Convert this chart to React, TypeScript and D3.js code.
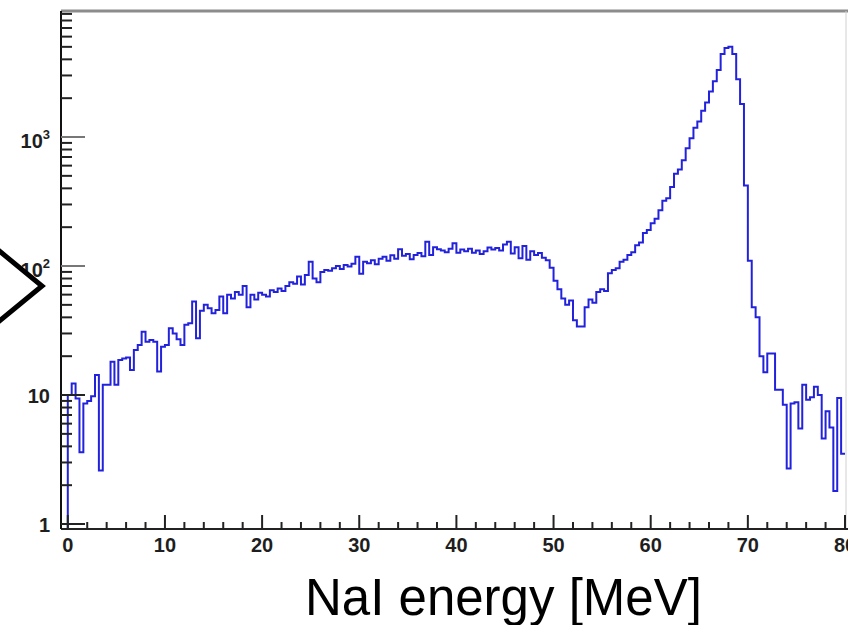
import React from 'react';
import * as d3 from 'd3';

// Histogram: NaI energy spectrum, bins of 0.4 MeV starting at 0 MeV
const BIN_START = 0;
const BIN_WIDTH = 0.4;
const counts: number[] = [
  10, 12.3, 9.4, 3.6, 8.6, 9.0, 9.8, 14.3, 2.6, 12.0,
  12.0, 18.1, 12.0, 18.7, 19.2, 19.5, 15.6, 22.3, 24.4, 31,
  25.9, 26.7, 25.9, 15.2, 23.7, 24.4, 32.9, 30, 27, 24.4,
  35, 36, 53, 27.5, 45, 50, 47, 43, 45.6, 58,
  43, 60, 56, 63, 60, 70, 48, 60, 55, 62,
  60, 58, 65, 63, 67, 64, 70, 75, 73, 83,
  72, 85, 108, 80, 75, 90, 93, 92, 96, 100,
  95, 102, 99, 104, 118, 87, 108, 105, 111, 103,
  114, 118, 110, 121, 114, 135, 120, 124, 113, 122,
  126, 119, 154, 122, 140, 135, 132, 128, 136, 150,
  127, 134, 130, 136, 127, 132, 124, 130, 139, 134,
  138, 132, 147, 154, 125, 140, 115, 143, 112, 130,
  122, 126, 116, 111, 97, 77, 66, 56, 50, 54,
  38, 34, 34, 48, 55, 52, 63, 66, 64, 88,
  93, 96, 108, 112, 122, 128, 145, 152, 180, 190,
  215, 232, 270, 320, 335, 410, 520, 560, 660, 820,
  980, 1180, 1320, 1600, 1850, 2250, 2700, 3300, 4400, 4900,
  5000, 4400, 2800, 1800, 420, 110, 48, 40, 20, 15,
  21, 21, 11, 11, 8.4, 2.7, 8.6, 8.8, 5.5, 12,
  9.2, 9.6, 11.6, 10, 4.6, 7.5, 5.6, 1.8, 9.5, 3.5,
];

const xMajorTicks = [0, 10, 20, 30, 40, 50, 60, 70, 80];
const xMinorTicks = [2, 4, 6, 8, 12, 14, 16, 18, 22, 24, 26, 28, 32, 34, 36, 38, 42, 44, 46, 48, 52, 54, 56, 58, 62, 64, 66, 68, 72, 74, 76, 78];
const yMajorTicks = [1, 10, 100, 1000];
const yTickExponents = ['', '', '2', '3'];
const yTickBases = ['1', '10', '10', '10'];
const xTitle = 'NaI energy [MeV]';

export default function App() {
  const W = 848, H = 625;
  const left = 61, right = 845, top = 11, bottom = 529;
  const x = d3.scaleLinear().domain([-0.7, 80]).range([left, right]);
  const y = d3.scaleLog().domain([0.915, 9480]).range([bottom, top]);

  const yMinor: number[] = [];
  yMajorTicks.forEach((d) => {
    for (let k = 2; k <= 9; k++) if (k * d <= 9480) yMinor.push(k * d);
  });

  const pts: [number, number][] = [];
  pts.push([x(BIN_START), bottom + 2]);
  counts.forEach((c, i) => {
    const x0 = x(BIN_START + i * BIN_WIDTH);
    const x1 = x(BIN_START + (i + 1) * BIN_WIDTH);
    const yy = y(c);
    pts.push([x0, yy], [x1, yy]);
  });
  const pathD = d3.line()(pts) || '';

  const font = "'Liberation Sans', Arial, Helvetica, sans-serif";

  return (
    <svg width={W} height={H} style={{ position: 'absolute', left: 0, top: 0, background: '#fff' }}>
      <rect x={0} y={0} width={W} height={H} fill="#fff" />
      <defs>
        <clipPath id="plotclip">
          <rect x={left} y={top} width={W - left} height={bottom - top} />
        </clipPath>
      </defs>
      {/* frame */}
      <line x1={left} x2={W} y1={top} y2={top} stroke="#8c8c8c" strokeWidth={3} />
      <line x1={846} x2={846} y1={top} y2={bottom} stroke="#d0d0d0" strokeWidth={1} />
      {/* histogram */}
      <path d={pathD} fill="none" stroke="#2222dd" strokeWidth={2} clipPath="url(#plotclip)" />
      {/* x axis */}
      <line x1={left} x2={W} y1={bottom} y2={bottom} stroke="#222" strokeWidth={2} />
      {xMajorTicks.map((t) => (
        <line key={'xM' + t} x1={x(t)} x2={x(t)} y1={bottom} y2={bottom - 14} stroke="#222" strokeWidth={2} />
      ))}
      {xMinorTicks.map((t) => (
        <line key={'xm' + t} x1={x(t)} x2={x(t)} y1={bottom} y2={bottom - 7} stroke="#222" strokeWidth={2} />
      ))}
      {xMajorTicks.map((t) => (
        <text key={'xl' + t} x={x(t)} y={552} textAnchor="middle" fontFamily={font} fontWeight="bold" fontSize={20} fill="#1e1e1e">
          {t}
        </text>
      ))}
      {/* y axis */}
      <line x1={left} x2={left} y1={top} y2={bottom} stroke="#111" strokeWidth={2} />
      {yMajorTicks.map((t) => (
        <line key={'yM' + t} x1={left} x2={left + 24} y1={y(t)} y2={y(t)} stroke={t >= 100 ? '#777' : '#222'} strokeWidth={2} />
      ))}
      {yMinor.map((t) => (
        <line key={'ym' + t} x1={left} x2={left + 11} y1={y(t)} y2={y(t)} stroke="#222" strokeWidth={2} />
      ))}
      {yMajorTicks.map((t, i) =>
        yTickExponents[i] ? (
          <text key={'yl' + t} x={50} y={y(t) + 11} textAnchor="end" fontFamily={font} fontWeight="bold" fontSize={20} fill="#1e1e1e">
            {yTickBases[i]}
            <tspan fontSize={13} dy={-9}>{yTickExponents[i]}</tspan>
          </text>
        ) : (
          <text key={'yl' + t} x={50} y={y(t) + 7.5} textAnchor="end" fontFamily={font} fontWeight="bold" fontSize={20} fill="#1e1e1e">
            {yTickBases[i]}
          </text>
        )
      )}
      {/* callout chevron */}
      <polygon points="-8,245 42,286 -8,327" fill="#fff" stroke="#000" strokeWidth={5} strokeLinejoin="miter" />
      {/* x title */}
      <text x={305} y={615} fontFamily={font} fontSize={51} fill="#000">
        {xTitle}
      </text>
    </svg>
  );
}
